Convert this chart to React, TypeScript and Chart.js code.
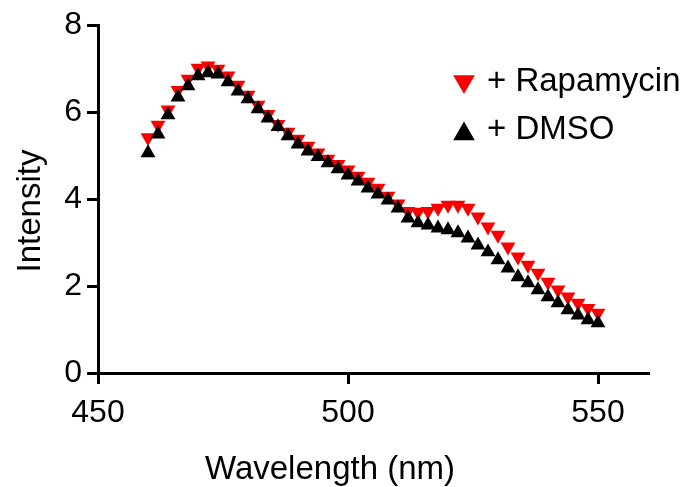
import React, { useEffect, useRef } from 'react';
import { Chart, registerables } from 'chart.js';

Chart.register(...registerables);

const wavelengths = [
  460, 462, 464, 466, 468, 470, 472, 474, 476, 478,
  480, 482, 484, 486, 488, 490, 492, 494, 496, 498,
  500, 502, 504, 506, 508, 510, 512, 514, 516, 518,
  520, 522, 524, 526, 528, 530, 532, 534, 536, 538,
  540, 542, 544, 546, 548, 550,
];

const rapamycin = [
  5.41, 5.70, 6.05, 6.50, 6.76, 7.01, 7.06, 6.99, 6.83, 6.62,
  6.39, 6.16, 5.95, 5.72, 5.54, 5.38, 5.22, 5.06, 4.92, 4.80,
  4.67, 4.53, 4.39, 4.25, 4.07, 3.89, 3.72, 3.70, 3.72, 3.79,
  3.86, 3.86, 3.79, 3.59, 3.36, 3.17, 2.90, 2.67, 2.48, 2.30,
  2.09, 1.91, 1.75, 1.61, 1.49, 1.38,
];

const dmso = [
  5.06, 5.49, 5.93, 6.34, 6.60, 6.83, 6.90, 6.87, 6.69, 6.48,
  6.30, 6.07, 5.86, 5.66, 5.45, 5.26, 5.10, 4.97, 4.83, 4.69,
  4.55, 4.41, 4.25, 4.11, 3.97, 3.79, 3.56, 3.45, 3.40, 3.33,
  3.29, 3.22, 3.10, 2.94, 2.78, 2.60, 2.41, 2.21, 2.07, 1.91,
  1.75, 1.61, 1.45, 1.33, 1.22, 1.15,
];

const xTickValues = [450, 500, 550];
const yTickValues = [0, 2, 4, 6, 8];
const xTitle = 'Wavelength (nm)';
const yTitle = 'Intensity';
const seriesLabels = ['+ Rapamycin', '+ DMSO'];

const RED = 'rgb(250,0,0)';
const BLACK = '#000000';
const FONT = '"Liberation Sans", Arial, Helvetica, sans-serif';

function triangle(ctx: CanvasRenderingContext2D, cx: number, cy: number, r: number, down: boolean, color: string) {
  const base = down ? Math.PI : 0;
  ctx.beginPath();
  for (let i = 0; i < 3; i++) {
    const a = base + (i * 2 * Math.PI) / 3;
    const px = cx + Math.sin(a) * r;
    const py = cy - Math.cos(a) * r;
    if (i === 0) ctx.moveTo(px, py);
    else ctx.lineTo(px, py);
  }
  ctx.closePath();
  ctx.fillStyle = color;
  ctx.fill();
}

const overlayPlugin = {
  id: 'overlayPlugin',
  afterDraw(chart: any) {
    const ctx: CanvasRenderingContext2D = chart.ctx;
    ctx.save();
    ctx.fillStyle = '#000';
    ctx.font = `33px ${FONT}`;
    ctx.textAlign = 'center';
    ctx.textBaseline = 'alphabetic';
    ctx.fillText(xTitle, 330, 479);
    ctx.save();
    ctx.translate(40, 211);
    ctx.rotate(-Math.PI / 2);
    ctx.fillText(yTitle, 0, 0);
    ctx.restore();

    // legend
    triangle(ctx, 464, 81.5, 12.5, true, RED);
    triangle(ctx, 464, 134, 12.5, false, BLACK);
    ctx.fillStyle = '#000';
    ctx.font = `33px ${FONT}`;
    ctx.textAlign = 'left';
    ctx.fillText(seriesLabels[0], 487, 91);
    ctx.fillText(seriesLabels[1], 487, 139);
    ctx.restore();
  },
};

export default function App() {
  const canvasRef = useRef<HTMLCanvasElement | null>(null);

  useEffect(() => {
    if (!canvasRef.current) return;
    const chart = new Chart(canvasRef.current, {
      type: 'scatter',
      data: {
        datasets: [
          {
            label: seriesLabels[1],
            data: wavelengths.map((x, i) => ({ x, y: dmso[i] })),
            pointStyle: 'triangle',
            pointRadius: 8.6,
            pointRotation: 0,
            backgroundColor: BLACK,
            borderColor: BLACK,
            borderWidth: 0,
            showLine: false,
            order: 0,
          },
          {
            label: seriesLabels[0],
            data: wavelengths.map((x, i) => ({ x, y: rapamycin[i] })),
            pointStyle: 'triangle',
            pointRadius: 8.6,
            pointRotation: 180,
            backgroundColor: RED,
            borderColor: RED,
            borderWidth: 0,
            showLine: false,
            order: 1,
          },
        ],
      },
      options: {
        animation: false,
        responsive: true,
        maintainAspectRatio: false,
        events: [],
        layout: { padding: { top: 25, right: 42, left: 0, bottom: 0 } },
        plugins: {
          legend: { display: false },
          tooltip: { enabled: false },
          title: { display: false },
        },
        scales: {
          x: {
            type: 'linear',
            min: 450,
            max: 560,
            afterFit: (scale: any) => {
              scale.height = 114;
            },
            afterBuildTicks: (scale: any) => {
              scale.ticks = xTickValues.map((v) => ({ value: v }));
            },
            ticks: {
              color: '#000',
              font: { family: FONT, size: 32 },
              padding: 10,
              maxRotation: 0,
              autoSkip: false,
            },
            grid: {
              drawOnChartArea: false,
              drawTicks: true,
              tickLength: 11,
              tickWidth: 3,
              tickColor: '#000',
              lineWidth: 3,
              color: '#000',
            },
            border: { display: true, color: '#000', width: 3 },
          },
          y: {
            type: 'linear',
            min: 0,
            max: 8,
            afterFit: (scale: any) => {
              scale.width = 98;
            },
            afterBuildTicks: (scale: any) => {
              scale.ticks = yTickValues.map((v) => ({ value: v }));
            },
            ticks: {
              color: '#000',
              font: { family: FONT, size: 32 },
              padding: 5,
              autoSkip: false,
            },
            grid: {
              drawOnChartArea: false,
              drawTicks: true,
              tickLength: 11,
              tickWidth: 3,
              tickColor: '#000',
              lineWidth: 3,
              color: '#000',
            },
            border: { display: true, color: '#000', width: 3 },
          },
        },
      },
      plugins: [overlayPlugin],
    });
    return () => chart.destroy();
  }, []);

  return (
    <div style={{ position: 'fixed', left: 0, top: 0, width: 690, height: 487, background: '#fff' }}>
      <canvas ref={canvasRef} />
    </div>
  );
}
